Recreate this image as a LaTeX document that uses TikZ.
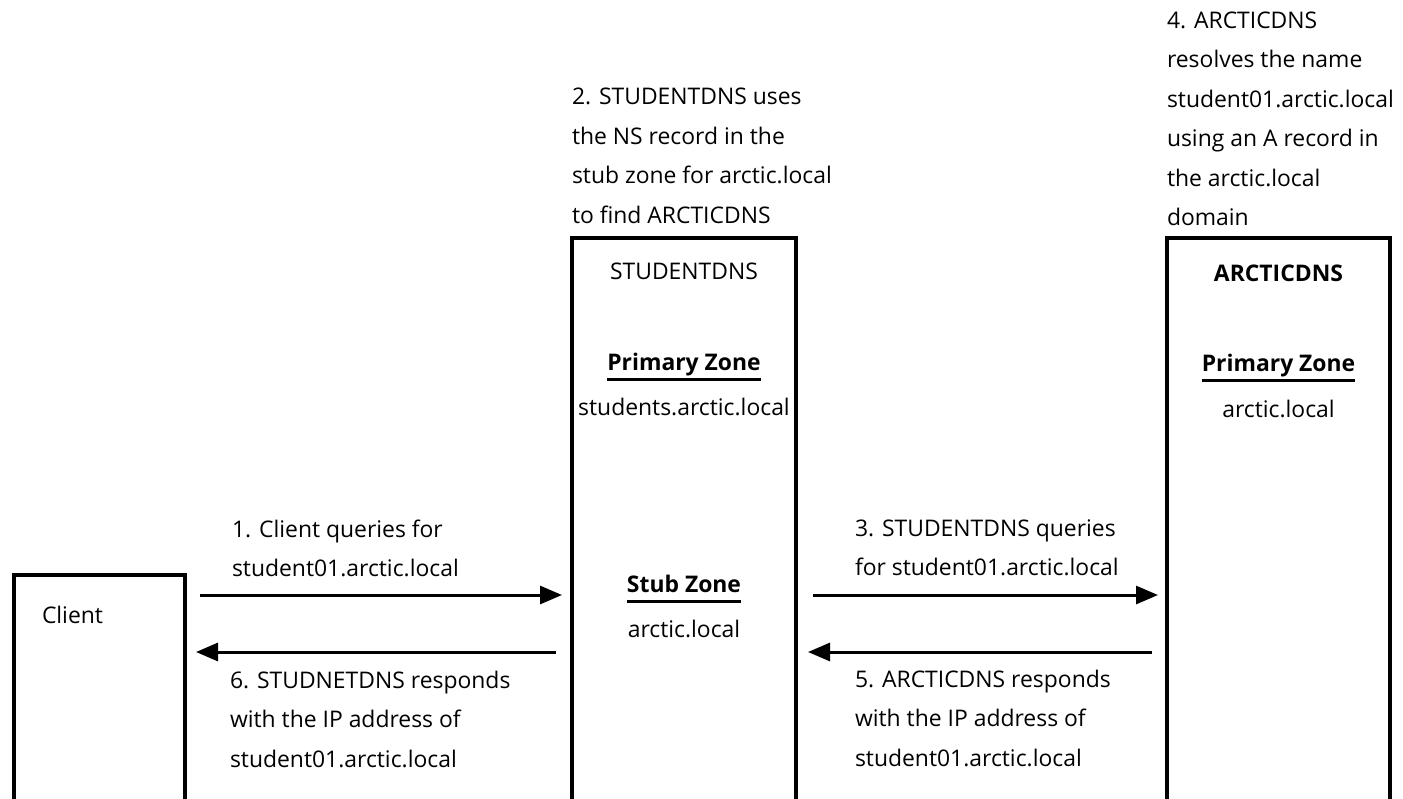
\documentclass[tikz,border=0pt]{standalone}
\usepackage{fontspec}
\setmainfont{Open Sans}
\usetikzlibrary{arrows.meta}
\tikzset{
  box/.style={draw, line width=3.2pt, rectangle, anchor=north west, inner sep=0pt, outer sep=0pt},
  lbl/.style={font=\fontsize{22.9}{39.5}\selectfont, inner sep=0pt, outer sep=0pt},
  blk/.style={lbl, anchor=north west, align=left},
  ctr/.style={lbl, anchor=base},
  ul/.style={line width=3pt},
  arr/.style={line width=3pt, -{Triangle[length=22pt,width=18pt]}}
}
\begin{document}
\begin{tikzpicture}[x=1pt,y=-1pt]
\path[use as bounding box, clip] (0,0) rectangle (1403,798);
\fill[white] (0,0) rectangle (1403,798);
% boxes
\node[box, minimum width=171pt, minimum height=300pt] (client) at (14,575) {};
\node[box, minimum width=224pt, minimum height=620pt] (stud) at (572,238) {};
\node[box, minimum width=223pt, minimum height=620pt] (arc) at (1167,238) {};
% box contents
\node[lbl, anchor=base west] (clientlbl) at (42,623) {Client};
\node[ctr] (studname) at (684,279) {STUDENTDNS};
\node[ctr] (pz1) at (684,370) {\bfseries Primary Zone};
\draw[ul] ([yshift=-9pt]pz1.base west) -- ([yshift=-9pt]pz1.base east);
\node[ctr] (pz1v) at (684,415) {students.arctic.local};
\node[ctr] (sz) at (684,592) {\bfseries Stub Zone};
\draw[ul] ([yshift=-9pt]sz.base west) -- ([yshift=-9pt]sz.base east);
\node[ctr] (szv) at (684,637) {arctic.local};
\node[ctr] (arcname) at (1278.5,281) {\bfseries ARCTICDNS};
\node[ctr] (pz2) at (1278.5,371) {\bfseries Primary Zone};
\draw[ul] ([yshift=-9pt]pz2.base west) -- ([yshift=-9pt]pz2.base east);
\node[ctr] (pz2v) at (1278.5,417) {arctic.local};
% descriptive text blocks
\node[blk] (t2) at (572,76.85) {\strut 2. STUDENTDNS uses\\the NS record in the\\stub zone for arctic.local\\to find ARCTICDNS};
\node[blk] (t4) at (1167,0.35) {\strut 4. ARCTICDNS\\resolves the name\\student01.arctic.local\\using an A record in\\the arctic.local\\domain};
\node[blk] (t1) at (232,509.35) {\strut 1. Client queries for\\student01.arctic.local};
\node[blk] (t6) at (230,660.35) {\strut 6. STUDNETDNS responds\\with the IP address of\\student01.arctic.local};
\node[blk] (t3) at (855,508.35) {\strut 3. STUDENTDNS queries\\for student01.arctic.local};
\node[blk] (t5) at (855,659.35) {\strut 5. ARCTICDNS responds\\with the IP address of\\student01.arctic.local};
% arrows
\coordinate (r1) at (0,595);
\coordinate (r2) at (0,652);
\draw[arr, shorten <=15pt, shorten >=10pt] (client.east |- r1) -- (stud.west |- r1);
\draw[arr, shorten <=16pt, shorten >=11pt] (stud.west |- r2) -- (client.east |- r2);
\draw[arr, shorten <=17pt, shorten >=9pt] (stud.east |- r1) -- (arc.west |- r1);
\draw[arr, shorten <=15pt, shorten >=12pt] (arc.west |- r2) -- (stud.east |- r2);
\end{tikzpicture}
\end{document}
